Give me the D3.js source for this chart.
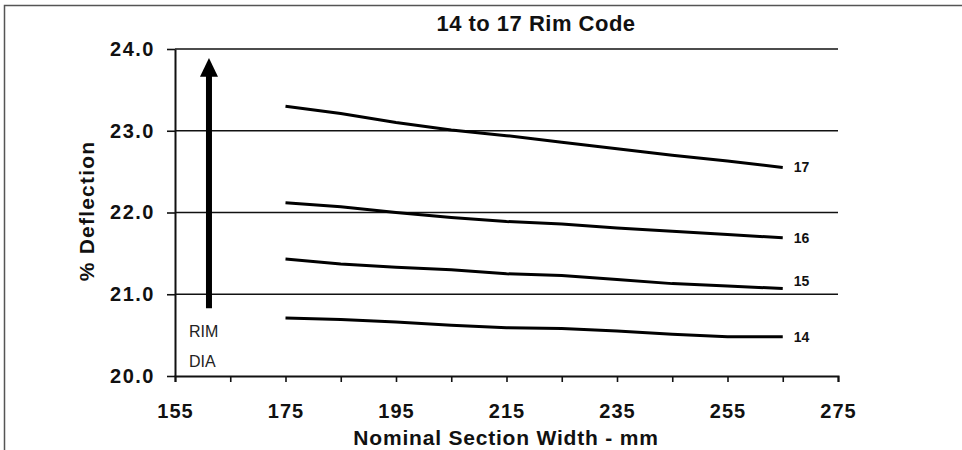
<!DOCTYPE html>
<html>
<head>
<meta charset="utf-8">
<script src="https://cdn.jsdelivr.net/npm/d3@7"></script>
<style>
  body { margin: 0; background: #fff; }
  svg { display: block; font-family: "Liberation Sans", Arial, sans-serif; }
</style>
</head>
<body>
<div id="chart"></div>
<script>
// data
let widths = [175, 185, 195, 205, 215, 225, 235, 245, 255, 265]
let rim17 = [23.30, 23.21, 23.10, 23.01, 22.94, 22.86, 22.78, 22.70, 22.63, 22.55]
let rim16 = [22.12, 22.07, 22.00, 21.94, 21.89, 21.86, 21.81, 21.77, 21.73, 21.69]
let rim15 = [21.43, 21.37, 21.33, 21.30, 21.25, 21.23, 21.18, 21.13, 21.10, 21.07]
let rim14 = [20.71, 20.69, 20.66, 20.62, 20.59, 20.58, 20.55, 20.51, 20.48, 20.48]
let seriesNames = ["17", "16", "15", "14"]
let xTickLabels = [155, 175, 195, 215, 235, 255, 275]
let yTickLabels = [20, 21, 22, 23, 24]

let series = [rim17, rim16, rim15, rim14].map((vals, i) => ({
    name: seriesNames[i],
    values: vals.map((v, j) => ({x: widths[j], y: v}))
}))

let W = 962, H = 450
let margin = {top: 49, right: 124, bottom: 74, left: 175}
let width = W - margin.left - margin.right
let height = H - margin.top - margin.bottom

let svg = d3.select("#chart").append("svg")
    .attr("width", W)
    .attr("height", H)

// frame (left + top edges)
svg.append("path")
    .attr("d", `M4.5,${H} L4.5,5.5 L${W},5.5`)
    .attr("fill", "none")
    .attr("stroke", "#555")
    .attr("stroke-width", 1.5)

let g = svg.append("g")
    .attr("transform", `translate(${margin.left},${margin.top})`)

let x = d3.scaleLinear().domain([155, 275]).range([0, width])
let y = d3.scaleLinear().domain([20, 24]).range([height, 0])

// horizontal gridlines
g.selectAll(".grid")
    .data(yTickLabels.filter(d => d > 20))
    .enter()
    .append("line")
    .attr("class", "grid")
    .attr("x1", 0)
    .attr("x2", width)
    .attr("y1", d => y(d))
    .attr("y2", d => y(d))
    .attr("stroke", "#111")
    .attr("stroke-width", 1.6)

// x axis
let xAxis = g.append("g")
    .attr("transform", `translate(0,${height})`)
    .call(d3.axisBottom(x).tickValues(d3.range(155, 276, 10)).tickSize(6).tickFormat(d => xTickLabels.includes(d) ? d : ""))
xAxis.select(".domain").attr("stroke", "#111").attr("stroke-width", 2)
xAxis.selectAll(".tick line").attr("stroke", "#111").attr("stroke-width", 1.6)
xAxis.selectAll(".tick text")
    .attr("dy", 0)
    .attr("y", 42)
    .attr("font-size", 20)
    .attr("letter-spacing", 1)
    .attr("font-weight", "bold")
    .attr("fill", "#111")

// y axis
let yAxis = g.append("g")
    .call(d3.axisLeft(y).tickValues(yTickLabels).tickSize(8).tickSizeOuter(0).tickFormat(d3.format(".1f")))
yAxis.select(".domain").attr("stroke", "#111").attr("stroke-width", 2)
yAxis.selectAll(".tick line").attr("stroke", "#111").attr("stroke-width", 1.6)
yAxis.selectAll(".tick text")
    .attr("x", -20)
    .attr("font-size", 20)
    .attr("letter-spacing", 1.5)
    .attr("font-weight", "bold")
    .attr("fill", "#111")

// series lines
let line = d3.line().x(d => x(d.x)).y(d => y(d.y))

g.selectAll(".rim-line")
    .data(series)
    .enter()
    .append("path")
    .attr("class", "rim-line")
    .attr("d", d => line(d.values))
    .attr("fill", "none")
    .attr("stroke", "#000")
    .attr("stroke-width", 3)

// series end labels
g.selectAll(".rim-label")
    .data(series)
    .enter()
    .append("text")
    .attr("class", "rim-label")
    .attr("x", d => x(d.values[d.values.length - 1].x) + 11)
    .attr("y", d => y(d.values[d.values.length - 1].y) + (d.name === "15" ? -7 : 0))
    .attr("dy", "0.35em")
    .attr("font-size", 14)
    .attr("font-weight", "bold")
    .attr("fill", "#111")
    .text(d => d.name)

// rim diameter arrow
let arrowX = x(161.15)
g.append("line")
    .attr("x1", arrowX)
    .attr("x2", arrowX)
    .attr("y1", y(20.83))
    .attr("y2", y(23.67))
    .attr("stroke", "#000")
    .attr("stroke-width", 6)
g.append("path")
    .attr("d", `M${arrowX},${y(23.89)} L${arrowX - 9},${y(23.66)} L${arrowX + 9},${y(23.66)} Z`)
    .attr("fill", "#000")

g.append("text")
    .attr("x", arrowX - 20)
    .attr("y", y(20.48))
    .attr("font-size", 16)
    .attr("fill", "#222")
    .text("RIM")
g.append("text")
    .attr("x", arrowX - 20)
    .attr("y", y(20.11))
    .attr("font-size", 16)
    .attr("fill", "#222")
    .text("DIA")

// titles
svg.append("text")
    .attr("x", 536)
    .attr("y", 31)
    .attr("text-anchor", "middle")
    .attr("font-size", 22)
    .attr("letter-spacing", 0.5)
    .attr("font-weight", "bold")
    .attr("fill", "#111")
    .text("14 to 17 Rim Code")

svg.append("text")
    .attr("x", 506)
    .attr("y", 445)
    .attr("text-anchor", "middle")
    .attr("font-size", 21)
    .attr("letter-spacing", 0.8)
    .attr("font-weight", "bold")
    .attr("fill", "#111")
    .text("Nominal Section Width - mm")

svg.append("text")
    .attr("transform", "translate(94,211) rotate(-90)")
    .attr("text-anchor", "middle")
    .attr("font-size", 21)
    .attr("letter-spacing", 1.2)
    .attr("font-weight", "bold")
    .attr("fill", "#111")
    .text("% Deflection")
</script>
</body>
</html>
